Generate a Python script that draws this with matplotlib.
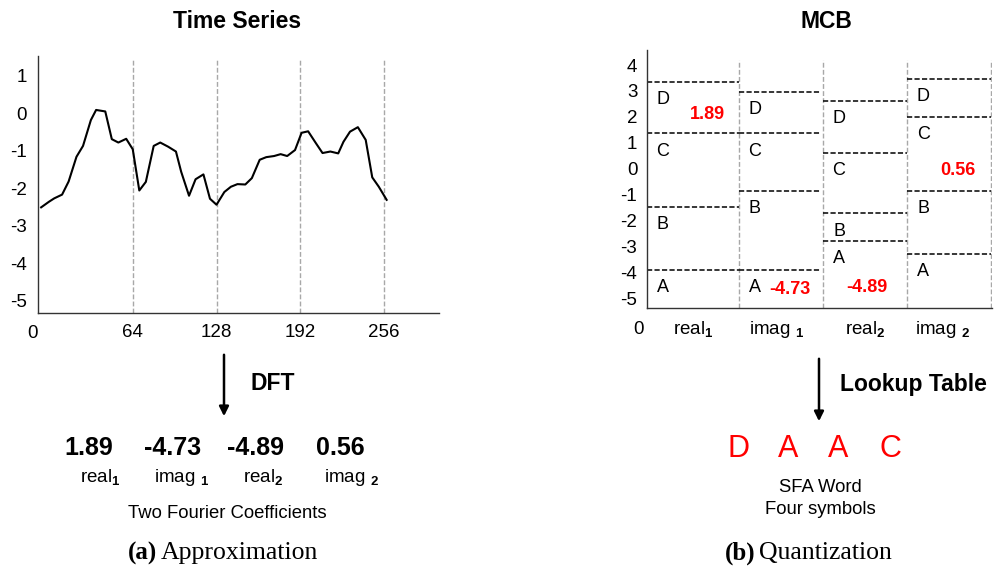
import matplotlib.pyplot as plt
from matplotlib.patches import FancyArrowPatch

plt.rcParams['font.family'] = ['Liberation Sans', 'DejaVu Sans']
plt.rcParams['axes.unicode_minus'] = False
plt.rcParams['mathtext.fontset'] = 'custom'
plt.rcParams['mathtext.rm'] = 'Liberation Sans'
plt.rcParams['mathtext.it'] = 'Liberation Sans'
plt.rcParams['mathtext.bf'] = 'Liberation Sans:bold'

# time series (sample position, value)
t = [-6, 0, 4, 10, 15, 21, 26, 32, 36, 43, 48, 53, 59, 64, 69, 74, 80, 85, 91, 97,
     101, 107, 112, 118, 123, 128, 134, 139, 144, 150, 155, 161, 166, 172, 177, 182,
     188, 193, 198, 204, 209, 215, 221, 225, 230, 236, 242, 247, 252, 258]
series = [-2.51, -2.36, -2.27, -2.17, -1.82, -1.16, -0.87, -0.18, 0.09, 0.05,
          -0.69, -0.78, -0.68, -0.96, -2.06, -1.83, -0.87, -0.78, -0.89, -1.02,
          -1.56, -2.20, -1.76, -1.63, -2.28, -2.44, -2.10, -1.96, -1.89, -1.90,
          -1.73, -1.24, -1.17, -1.14, -1.09, -1.14, -0.98, -0.52, -0.48, -0.80,
          -1.06, -1.02, -1.07, -0.76, -0.49, -0.37, -0.71, -1.71, -1.96, -2.31]
segments = [64, 128, 192, 256]

# Fourier coefficients and their names
coef_names = [r'real$_\mathbf{1}$', r'imag $_\mathbf{1}$', r'real$_\mathbf{2}$', r'imag $_\mathbf{2}$']
coef_values = [1.89, -4.73, -4.89, 0.56]

# MCB breakpoints per coefficient (upper bounds of A, B, C, D)
bp_real1 = [-3.92, -1.49, 1.36, 3.33]
bp_imag1 = [-3.92, -0.85, 1.36, 2.97]
bp_real2 = [-2.78, -1.73, 0.62, 2.61]
bp_imag2 = [-3.28, -0.85, 1.98, 3.45]
symbols = ['A', 'B', 'C', 'D']
sfa_word = ['D', 'A', 'A', 'C']

W, H = 996, 566
fig = plt.figure(figsize=(W / 100, H / 100), dpi=100)


def fx(x):
    return x / W


def fy(y):
    return 1 - y / H


def caption(xr, y, tag, text):
    fig.text(fx(xr), fy(y), tag, ha='right', va='center', fontsize=18,
             family='Liberation Serif', fontweight='bold')
    fig.text(fx(xr + 4), fy(y), text, ha='left', va='center', fontsize=18.5,
             family='Liberation Serif')


def down_arrow(x, y0, y1):
    fig.patches.append(FancyArrowPatch(
        (fx(x), fy(y0)), (fx(x), fy(y1)), transform=fig.transFigure,
        arrowstyle='-|>', mutation_scale=14, lw=1.8, color='black'))


# ---- left: time series ----
ax1 = fig.add_axes([fx(38), fy(313), fx(439 - 38), (313 - 56) / H])
for s in segments:
    ax1.plot([s, s], [-5.33, 1.41], color='#a8a8a8', lw=1.0, dashes=(3.5, 1.6))
ax1.plot(t, series, color='black', lw=1.5)
ax1.set_xlim(-8.4, 298)
ax1.set_ylim(-5.33, 1.53)
ax1.set_yticks([1, 0, -1, -2, -3, -4, -5])
ax1.set_xticks(segments)
ax1.tick_params(length=0, labelsize=13.5, pad=8)
ax1.annotate('0', xy=(0, 0), xycoords='axes fraction', xytext=(-4, -9),
             textcoords='offset points', ha='center', va='top', fontsize=13.5)
for sp in ['top', 'right']:
    ax1.spines[sp].set_visible(False)
for sp in ['left', 'bottom']:
    ax1.spines[sp].set_linewidth(1.0)
    ax1.spines[sp].set_color('#333333')
fig.text(fx(237), fy(22), 'Time Series', ha='center', va='center',
         fontsize=16.5, fontweight='bold')

# ---- right: MCB ----
ax2 = fig.add_axes([fx(647), fy(308), fx(992 - 647), (308 - 50) / H])
lo = [-0.1, 1, 2, 3]
hi = [1, 1.97, 3, 4]
for k in range(1, 5):
    ax2.plot([k, k], [-5.38, 4.19], color='#a8a8a8', lw=1.0, dashes=(3.5, 1.6))
for c, bps in enumerate([bp_real1, bp_imag1, bp_real2, bp_imag2]):
    for b, sym in zip(bps, symbols):
        ax2.plot([lo[c], hi[c]], [b, b], color='black', lw=1.1, dashes=(3.4, 1.5))
        ax2.text(lo[c] + 0.19, b - 0.68, sym, ha='center', va='center', fontsize=13)

# coefficient values inside their intervals
value_pos = [(0.62, 2.1), (1.61, -4.66), (2.52, -4.58), (3.6, -0.09)]
for (x, y), v in zip(value_pos, coef_values):
    ax2.text(x, y, f'{v:.2f}', color='red', fontweight='bold', fontsize=13,
             ha='center', va='center')

ax2.set_xlim(-0.095, 4.01)
ax2.set_ylim(-5.38, 4.58)
ax2.set_yticks(range(4, -6, -1))
ax2.set_xticks([0.45, 1.45, 2.5, 3.42])
ax2.set_xticklabels(coef_names)
ax2.tick_params(length=0, labelsize=13.5, pad=8)
ax2.tick_params(axis='y', pad=7)
ax2.annotate('0', xy=(0, 0), xycoords='axes fraction', xytext=(-6, -9),
             textcoords='offset points', ha='center', va='top', fontsize=13.5)
for sp in ['top', 'right']:
    ax2.spines[sp].set_visible(False)
for sp in ['left', 'bottom']:
    ax2.spines[sp].set_linewidth(1.0)
    ax2.spines[sp].set_color('#333333')
fig.text(fx(826), fy(22), 'MCB', ha='center', va='center',
         fontsize=16.5, fontweight='bold')

# ---- lower left: DFT step ----
down_arrow(224, 352, 419)
fig.text(fx(250), fy(384), 'DFT', ha='left', va='center', fontsize=16.5, fontweight='bold')
num_x = [89, 173, 256, 340]
name_x = [100, 182, 263, 351]
for x, v in zip(num_x, coef_values):
    fig.text(fx(x), fy(448), f'{v:.2f}', ha='center', va='center',
             fontsize=18, fontweight='bold')
for x, n in zip(name_x, coef_names):
    fig.text(fx(x), fy(477), n, ha='center', va='center', fontsize=13.5)
fig.text(fx(227), fy(513), 'Two Fourier Coefficients', ha='center', va='center', fontsize=13.3)
caption(157, 553, '(a)', 'Approximation')

# ---- lower right: lookup step ----
down_arrow(819, 356, 424)
fig.text(fx(840), fy(385), 'Lookup Table', ha='left', va='center',
         fontsize=16.5, fontweight='bold')
word_x = [738, 788, 838, 890]
for x, s in zip(word_x, sfa_word):
    fig.text(fx(x), fy(449), s, color='red', ha='center', va='center', fontsize=22)
fig.text(fx(820), fy(488), 'SFA Word', ha='center', va='center', fontsize=13.3)
fig.text(fx(820), fy(510), 'Four symbols', ha='center', va='center', fontsize=13.3)
caption(755, 553, '(b)', 'Quantization')

fig.savefig('out.png', dpi=100)
